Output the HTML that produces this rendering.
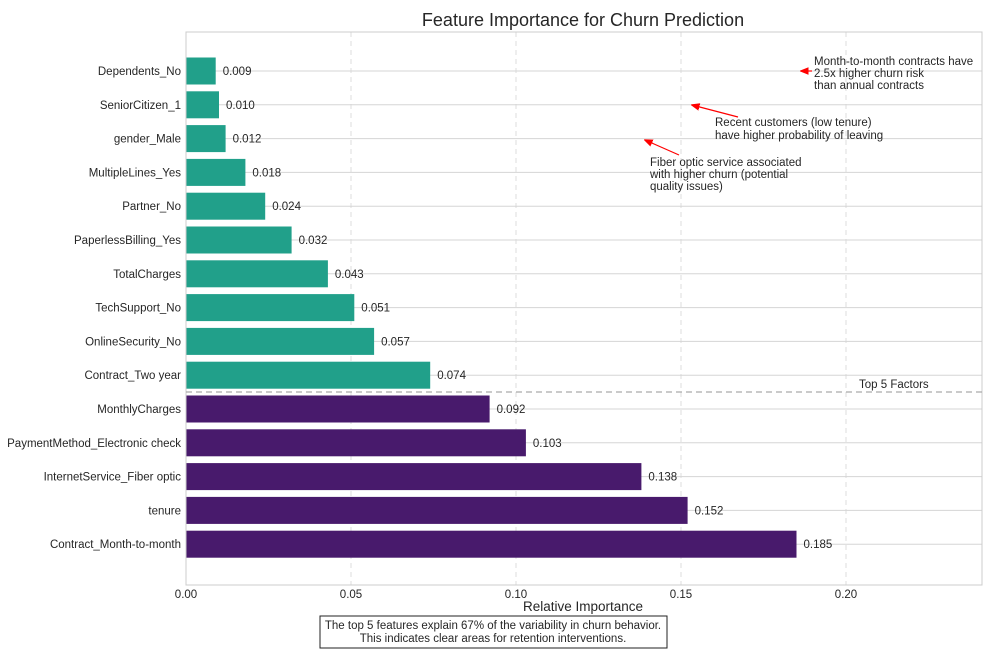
<!DOCTYPE html>
<html><head><meta charset="utf-8"><style>
body{margin:0;background:#fff;width:990px;height:652px;overflow:hidden;font-family:"Liberation Sans",sans-serif}
svg text{font-family:"Liberation Sans",sans-serif;fill:#262626}
</style></head><body>
<svg id="chart" width="990" height="652" xmlns="http://www.w3.org/2000/svg">
<defs><marker id="ah" viewBox="0 0 10 10" refX="9" refY="5" markerWidth="7" markerHeight="7" orient="auto-start-reverse"><path d="M0,1 L10,5 L0,9 Z" fill="red" stroke="red" stroke-width="1"/></marker></defs>
<text x="583" y="26" font-size="18" text-anchor="middle">Feature Importance for Churn Prediction</text>
<g id="grid"></g><g id="bars"></g><g id="labels"></g>
<rect x="186" y="32" width="796" height="553" fill="none" stroke="#ccc"/>
<line x1="186" x2="982" y1="392" y2="392" stroke="#aaa" stroke-dasharray="6,4" stroke-width="1.3"/>
<text x="859" y="388" font-size="11.5">Top 5 Factors</text>
<g font-size="11.5">
<line x1="812" y1="71" x2="801" y2="71" stroke="red" stroke-width="1.2" marker-end="url(#ah)"/>
<text x="814" y="65">Month-to-month contracts have</text><text x="814" y="77">2.5x higher churn risk</text><text x="814" y="89">than annual contracts</text>
<line x1="738" y1="117" x2="692" y2="105" stroke="red" stroke-width="1.2" marker-end="url(#ah)"/>
<text x="715" y="126">Recent customers (low tenure)</text><text x="715" y="139">have higher probability of leaving</text>
<line x1="679" y1="155" x2="645" y2="140" stroke="red" stroke-width="1.2" marker-end="url(#ah)"/>
<text x="650" y="166">Fiber optic service associated</text><text x="650" y="178">with higher churn (potential</text><text x="650" y="190">quality issues)</text>
</g>
<text x="583" y="611" font-size="13.5" text-anchor="middle">Relative Importance</text>
<rect x="320" y="616" width="347" height="32" fill="#fff" stroke="#222"/>
<text x="493" y="629" font-size="11.5" text-anchor="middle">The top 5 features explain 67% of the variability in churn behavior.</text>
<text x="493" y="642" font-size="11.5" text-anchor="middle">This indicates clear areas for retention interventions.</text>
</svg>
<script>
const features=["Dependents_No","SeniorCitizen_1","gender_Male","MultipleLines_Yes","Partner_No","PaperlessBilling_Yes","TotalCharges","TechSupport_No","OnlineSecurity_No","Contract_Two year","MonthlyCharges","PaymentMethod_Electronic check","InternetService_Fiber optic","tenure","Contract_Month-to-month"];
const importance=[0.009,0.010,0.012,0.018,0.024,0.032,0.043,0.051,0.057,0.074,0.092,0.103,0.138,0.152,0.185];
const xTicks=[0,0.05,0.10,0.15,0.20];
const xTickLabels=["0.00","0.05","0.10","0.15","0.20"];
const topN=5;
const NS="http://www.w3.org/2000/svg";
const x=v=>186+v*3300;
const y=i=>71+i*33.8;
const g=document.getElementById('grid'),b=document.getElementById('bars'),l=document.getElementById('labels');
function mk(tag,attrs,parent){const e=document.createElementNS(NS,tag);for(const k in attrs)e.setAttribute(k,attrs[k]);parent.appendChild(e);return e;}
xTicks.forEach((t,i)=>{
 const ln=mk('line',{x1:x(t),x2:x(t),y1:32,y2:585,stroke:'#ddd','stroke-dasharray':'5,4'},g);
 
 
 const tx=mk('text',{x:x(t),y:598,'font-size':11.5,'text-anchor':'middle'},l);tx.textContent=xTickLabels[i];
 
 
});
features.forEach((f,i)=>{
 const gl=mk('line',{x1:186,x2:982,y1:y(i),y2:y(i),stroke:'#d5d5d5'},g);
 
 
 const top=i>=features.length-topN;
 const r=mk('rect',{x:186,y:y(i)-13.5,width:x(importance[i])-186,height:27,fill:top?'#481a6c':'#21a08a'},b);
 
 
 const tl=mk('text',{x:181,y:y(i)+4,'font-size':11.5,'text-anchor':'end'},l);tl.textContent=f;
 
 
 const vl=mk('text',{x:x(importance[i])+7,y:y(i)+4,'font-size':11.5},l);vl.textContent=importance[i].toFixed(3);
 
 
});
</script>
</body></html>
